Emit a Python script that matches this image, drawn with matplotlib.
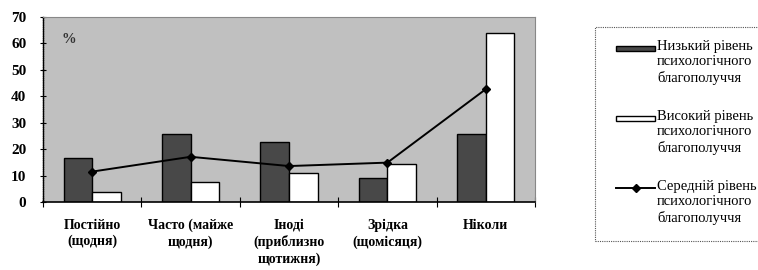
import matplotlib.pyplot as plt
import numpy as np
from matplotlib.lines import Line2D
from matplotlib.patches import Rectangle

categories = [
    "Постійно\n(щодня)",
    "Часто (майже\nщодня)",
    "Іноді\n(приблизно\nщотижня)",
    "Зрідка\n(щомісяця)",
    "Ніколи",
]
low_level = [16.8, 25.6, 22.7, 8.9, 25.8]
high_level = [3.7, 7.5, 10.9, 14.2, 63.9]
mid_level = [11.5, 17.1, 13.6, 14.9, 42.7]
legend_labels = [
    "Низький рівень\nпсихологічного\nблагополуччя",
    "Високий рівень\nпсихологічного\nблагополуччя",
    "Середній рівень\nпсихологічного\nблагополуччя",
]

W, H = 758, 270
plt.rcParams["font.family"] = "serif"
plt.rcParams["font.serif"] = ["Liberation Serif", "DejaVu Serif"]

fig = plt.figure(figsize=(W / 100, H / 100), dpi=100)
ax = fig.add_axes([43 / W, (H - 202) / H, 492 / W, 185 / H])
ax.set_facecolor("#c0c0c0")

x = np.arange(len(categories))
bw = 0.29
ax.bar(x - bw / 2, low_level, bw, color="#484848", edgecolor="black", linewidth=1.0, zorder=2)
ax.bar(x + bw / 2, high_level, bw, color="white", edgecolor="black", linewidth=1.0, zorder=2)
ax.plot(x, mid_level, color="black", linewidth=1.4, marker="D", markersize=4, zorder=3)

ax.set_xlim(-0.5, len(categories) - 0.5)
ax.set_ylim(0, 70)
ax.set_yticks(range(0, 71, 10))
ax.set_xticks(np.arange(-0.5, len(categories), 1.0))
ax.set_xticklabels([])
ax.set_xticks(x, minor=True)
ax.set_xticklabels(categories, minor=True)

ax.tick_params(axis="y", direction="inout", length=4, width=0.8, pad=10)
ax.tick_params(axis="x", which="major", direction="inout", length=7, width=0.8)
ax.tick_params(axis="x", which="minor", length=0, pad=12)
for lab in ax.get_yticklabels():
    lab.set_fontweight("bold")
    lab.set_fontsize(11)
for lab in ax.get_xticklabels(minor=True):
    lab.set_fontweight("bold")
    lab.set_fontsize(10)
    lab.set_linespacing(1.32)
    lab.set_verticalalignment("top")

for side in ("top", "right"):
    ax.spines[side].set_color("#888888")
    ax.spines[side].set_linestyle((0, (1, 1)))
    ax.spines[side].set_linewidth(0.8)
ax.spines["left"].set_linestyle((0, (1, 0.6)))
ax.spines["left"].set_linewidth(1.0)
ax.spines["bottom"].set_linewidth(1.2)

ax.text(0.053, 0.88, "%", transform=ax.transAxes, fontsize=10.5, fontweight="bold",
        color="#333333", ha="center", va="center")


# legend drawn by hand so the key sits on the first text line
def fx(px):
    return px / W


def fy(py):
    return 1 - py / H


box = Rectangle((fx(595), fy(241)), fx(175), fy(27) - fy(241), transform=fig.transFigure,
                facecolor="white", edgecolor="#555555", linewidth=0.8,
                linestyle=(0, (1, 1)), clip_on=False)
fig.add_artist(box)

entry_tops = [48, 118, 188]
for i, (label, top) in enumerate(zip(legend_labels, entry_tops)):
    if i < 2:
        face = "#484848" if i == 0 else "white"
        fig.add_artist(Rectangle((fx(616), fy(top + 2.5)), fx(39), fy(top - 2.5) - fy(top + 2.5),
                                 transform=fig.transFigure, facecolor=face,
                                 edgecolor="black", linewidth=1.0))
    else:
        fig.add_artist(Line2D([fx(616), fx(655)], [fy(top), fy(top)], transform=fig.transFigure,
                              color="black", linewidth=1.4))
        fig.add_artist(Line2D([fx(635.5)], [fy(top)], transform=fig.transFigure,
                              color="black", marker="D", markersize=4, linestyle="none"))
    fig.text(fx(657), fy(top - 8), label, fontsize=10.5, va="top", ha="left",
             linespacing=1.22)

fig.savefig("out.png", dpi=100)
